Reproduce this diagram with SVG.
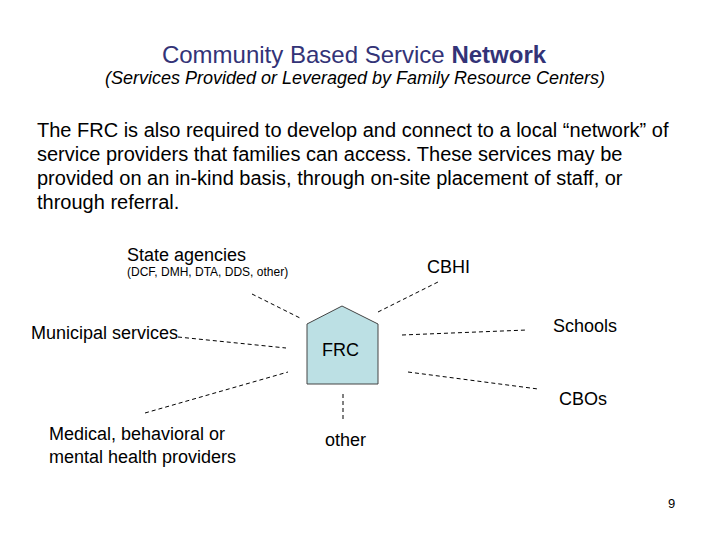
<svg xmlns="http://www.w3.org/2000/svg" width="720" height="540" viewBox="0 0 720 540">
<style>
text{font-family:"Liberation Sans",Arial,sans-serif;fill:#000}
.t{font-size:18px}
.p{font-size:20px}
.c{stroke:#000;stroke-width:1;stroke-dasharray:4,3;fill:none}
</style>
<rect width="720" height="540" fill="#fff"/>
<g id="title">
<text x="354" y="63" text-anchor="middle" style="font-size:24px;fill:#333377">Community Based Service <tspan font-weight="bold">Network</tspan></text>
<text x="355" y="84" text-anchor="middle" style="font-size:18px;font-style:italic">(Services Provided or Leveraged by Family Resource Centers)</text>
</g>
<g id="paragraph">
<text x="37" y="137" class="p">The FRC is also required to develop and connect to a local “network” of</text>
<text x="37" y="161" class="p">service providers that families can access. These services may be</text>
<text x="37" y="185" class="p">provided on an in-kind basis, through on-site placement of staff, or</text>
<text x="37" y="209" class="p">through referral.</text>
</g>
<g id="connectors">
<line class="c" x1="252" y1="294" x2="300" y2="318"/>
<line class="c" x1="178" y1="337" x2="286" y2="348"/>
<line class="c" x1="378" y1="312" x2="438" y2="282"/>
<line class="c" x1="402" y1="335" x2="527" y2="330"/>
<line class="c" x1="408" y1="372" x2="538" y2="389"/>
<line class="c" x1="145" y1="413" x2="288" y2="372"/>
<line class="c" x1="343" y1="394" x2="343" y2="420"/>
</g>
<g id="frc">
<polygon points="307,324 342,306 378,324 378,384 307,384" fill="#bce0e4" stroke="#444" stroke-width="1"/>
<text x="322" y="356" class="t">FRC</text>
</g>
<g id="state">
<text x="127" y="261" class="t">State agencies</text>
<text x="127" y="276" style="font-size:12px">(DCF, DMH, DTA, DDS, other)</text>
</g>
<g id="cbhi"><text x="427" y="273" class="t">CBHI</text></g>
<g id="municipal"><text x="31" y="339" class="t">Municipal services</text></g>
<g id="schools"><text x="553" y="332" class="t">Schools</text></g>
<g id="cbos"><text x="559" y="405" class="t">CBOs</text></g>
<g id="medical">
<text x="49" y="440" class="t">Medical, behavioral or</text>
<text x="49" y="463" class="t">mental health providers</text>
</g>
<g id="other"><text x="325" y="446" class="t">other</text></g>
<text x="668" y="508" style="font-size:13px">9</text>
</svg>
